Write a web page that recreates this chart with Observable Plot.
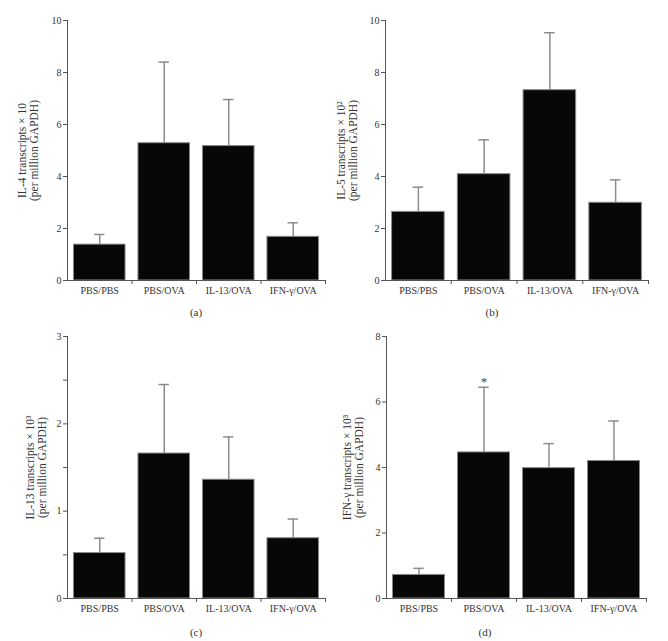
<!DOCTYPE html>
<html><head><meta charset="utf-8">
<script src="https://cdn.jsdelivr.net/npm/d3@7"></script>
<script src="https://cdn.jsdelivr.net/npm/@observablehq/plot@0.6"></script>
<style>
body{margin:0;background:#fff;}
#root{position:relative;width:668px;height:641px;font-family:"Liberation Serif","Times New Roman",serif;background:#fff;}
.panel{position:absolute;z-index:1;}
.cap{position:absolute;z-index:2;width:40px;text-align:center;font-size:11px;color:#333;line-height:14px;}
</style></head><body><div id="root"></div>
<script>
const categories = ["PBS/PBS", "PBS/OVA", "IL-13/OVA", "IFN-γ/OVA"];

// (a) IL-4 transcripts × 10 (per million GAPDH)
const il4Mean = [1.38, 5.28, 5.17, 1.68];
const il4Sd   = [0.39, 3.12, 1.79, 0.54];
// (b) IL-5 transcripts × 10² (per million GAPDH)
const il5Mean = [2.64, 4.09, 7.32, 2.99];
const il5Sd   = [0.95, 1.32, 2.21, 0.88];
// (c) IL-13 transcripts × 10³ (per million GAPDH)
const il13Mean = [0.52, 1.66, 1.36, 0.69];
const il13Sd   = [0.17, 0.79, 0.49, 0.22];
// (d) IFN-γ transcripts × 10³ (per million GAPDH)
const ifnMean = [0.72, 4.46, 3.98, 4.20];
const ifnSd   = [0.20, 1.99, 0.75, 1.22];
const ifnStars = ["", "*", "", ""];

const yTicksA = [0, 2, 4, 6, 8, 10];
const yTicksC = [0, 0.5, 1, 1.5, 2, 2.5, 3];
const yLabelsC = [0, 1, 2, 3];
const yTicksD = [0, 2, 4, 6, 8];

const FONT = '"Liberation Serif","Times New Roman",serif';
const root = document.getElementById("root");

function panel(o) {
  const rows = categories.map((c, i) => ({
    c, i, mean: o.mean[i], top: o.mean[i] + o.sd[i], star: o.stars ? o.stars[i] : ""
  }));
  const chart = Plot.plot({
    width: o.width, height: o.height,
    marginLeft: 67, marginRight: o.mr, marginTop: 20, marginBottom: 20,
    style: {fontFamily: FONT, fontSize: "10px", color: "#333", background: "transparent", overflow: "visible"},
    x: {domain: [0, categories.length], axis: null},
    y: {domain: [0, o.yMax], axis: null},
    marks: [
      Plot.rectY(rows, {x1: d => d.i + 0.1, x2: d => d.i + 0.9, y1: 0, y2: "mean", fill: "#070707", stroke: "#8a8a8a", strokeWidth: 1}),
      Plot.ruleX(rows, {x: d => d.i + 0.5, y1: "mean", y2: "top", stroke: "#8c8c8c", strokeWidth: 1.5}),
      Plot.ruleY(rows, {y: "top", x1: d => d.i + 0.42, x2: d => d.i + 0.58, stroke: "#8c8c8c", strokeWidth: 1.5}),
      Plot.text(rows.filter(d => d.star), {x: d => d.i + 0.5, y: "top", text: "star", lineAnchor: "bottom", dy: -1, fontSize: 13, fill: "#444"}),
      Plot.ruleX([0], {stroke: "#555"}),
      Plot.ruleY([0], {stroke: "#555"}),
      Plot.axisY({ticks: o.ticks, tickSize: 4, tickPadding: 2, stroke: "#555", label: null,
        tickFormat: d => (o.labels ? o.labels.includes(d) : true) ? String(d) : ""}),
      Plot.axisX({ticks: [1, 2, 3, 4], tickSize: 4, stroke: "#555", label: null, tickFormat: () => ""}),
      Plot.axisX({ticks: categories.map((c, i) => i + 0.5), tickSize: 0, tickPadding: 6, label: null,
        tickFormat: d => categories[Math.round(d - 0.5)]}),
      Plot.text([o.label], {text: d => d, frameAnchor: "left", rotate: -90, dx: o.labelDx,
        lineAnchor: "middle", textAnchor: "middle", fontSize: 11.5, fill: "#333"})
    ]
  });
  chart.classList.add("panel");
  chart.style.left = o.left + "px";
  chart.style.top = o.top + "px";
  root.appendChild(chart);
  const cap = document.createElement("div");
  cap.className = "cap";
  cap.textContent = o.caption;
  cap.style.left = (o.capX - 20) + "px";
  cap.style.top = (o.capY - 7) + "px";
  root.appendChild(cap);
}

panel({mean: il4Mean, sd: il4Sd, yMax: 10, ticks: yTicksA,
  label: "IL-4 transcripts × 10\n(per million GAPDH)",
  left: 0, top: 0, width: 334, height: 300, mr: 9, labelDx: -39, caption: "(a)", capX: 196, capY: 312});
panel({mean: il5Mean, sd: il5Sd, yMax: 10, ticks: yTicksA,
  label: "IL-5 transcripts × 10²\n(per million GAPDH)",
  left: 318, top: 0, width: 350, height: 300, mr: 20, labelDx: -38, caption: "(b)", capX: 492, capY: 312});
panel({mean: il13Mean, sd: il13Sd, yMax: 3, ticks: yTicksC, labels: yLabelsC,
  label: "IL-13 transcripts × 10³\n(per million GAPDH)",
  left: 0, top: 316, width: 334, height: 302, mr: 9, labelDx: -31, caption: "(c)", capX: 196, capY: 632});
panel({mean: ifnMean, sd: ifnSd, stars: ifnStars, yMax: 8, ticks: yTicksD,
  label: "IFN-γ transcripts × 10³\n(per million GAPDH)",
  left: 319, top: 316, width: 349, height: 302, mr: 22, labelDx: -33, caption: "(d)", capX: 485, capY: 632});
</script>
</body></html>
